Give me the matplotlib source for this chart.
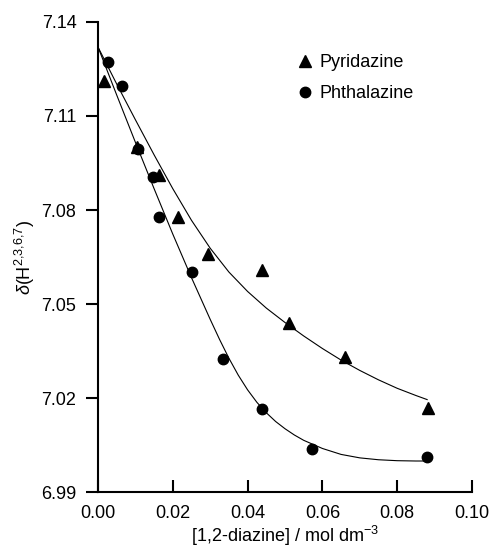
import numpy as np
import matplotlib
matplotlib.use('Agg')
import matplotlib.pyplot as plt

plt.rcParams['font.family'] = ['Liberation Sans', 'DejaVu Sans']
plt.rcParams['mathtext.fontset'] = 'custom'
plt.rcParams['mathtext.rm'] = 'Liberation Sans'
plt.rcParams['mathtext.it'] = 'Liberation Sans:italic'

# measured points
pyr_x = [0.0016, 0.0104, 0.0163, 0.0214, 0.0294, 0.0438, 0.0512, 0.0661, 0.0881]
pyr_y = [7.1212, 7.1000, 7.0912, 7.0779, 7.0660, 7.0608, 7.0438, 7.0330, 7.0167]

pht_x = [0.0028, 0.0063, 0.0108, 0.0146, 0.0163, 0.0250, 0.0333, 0.0438, 0.0572, 0.0879]
pht_y = [7.1271, 7.1197, 7.0995, 7.0906, 7.0779, 7.0603, 7.0323, 7.0165, 7.0036, 7.0013]

# fitted curves
pyr_fit_x = [0.000, 0.005, 0.010, 0.015, 0.020, 0.025, 0.030, 0.035, 0.040, 0.045,
             0.050, 0.055, 0.060, 0.065, 0.070, 0.075, 0.080, 0.085, 0.088]
pyr_fit_y = [7.1320, 7.1202, 7.1088, 7.0976, 7.0868, 7.0767, 7.0678, 7.0602, 7.0540, 7.0487,
             7.0441, 7.0398, 7.0358, 7.0321, 7.0288, 7.0258, 7.0231, 7.0208, 7.0195]

pht_fit_x = [0.000, 0.005, 0.010, 0.015, 0.020, 0.025, 0.030, 0.0325, 0.035, 0.0375,
             0.040, 0.0425, 0.045, 0.0475, 0.050, 0.0525, 0.055, 0.060, 0.065, 0.070,
             0.075, 0.080, 0.085, 0.088]
pht_fit_y = [7.1320, 7.1167, 7.1016, 7.0868, 7.0723, 7.0584, 7.0451, 7.0387, 7.0327, 7.0273,
             7.0226, 7.0186, 7.0153, 7.0125, 7.0102, 7.0082, 7.0065, 7.0039, 7.0020, 7.0009,
             7.0003, 7.0000, 6.9999, 6.9999]

x_ticks = [0.00, 0.02, 0.04, 0.06, 0.08, 0.10]
y_ticks = [6.99, 7.02, 7.05, 7.08, 7.11, 7.14]

fig = plt.figure(figsize=(4.9, 5.47), dpi=100)
ax = fig.add_axes([0.2, 0.1005, 0.7633, 0.8593])

ax.plot(pyr_fit_x, pyr_fit_y, color='black', lw=0.8)
ax.plot(pht_fit_x, pht_fit_y, color='black', lw=0.8)
ax.plot(pyr_x, pyr_y, '^', color='black', ms=8, label='Pyridazine', clip_on=False)
ax.plot(pht_x, pht_y, 'o', color='black', ms=7.5, label='Phthalazine', clip_on=False)

ax.set_xlim(0, 0.10)
ax.set_ylim(6.99, 7.14)
ax.set_xticks(x_ticks)
ax.set_xticklabels(['%.2f' % v for v in x_ticks])
ax.set_yticks(y_ticks)
ax.set_yticklabels(['%.2f' % v for v in y_ticks])

for s in ['top', 'right']:
    ax.spines[s].set_visible(False)
for s in ['left', 'bottom']:
    ax.spines[s].set_linewidth(1.5)

ax.tick_params(axis='y', direction='out', length=8.5, width=1.5, labelsize=13, pad=7)
ax.tick_params(axis='x', direction='in', length=8.5, width=1.5, labelsize=13, pad=9)

ax.set_xlabel('[1,2-diazine] / mol dm$^{\\mathregular{-3}}$', fontsize=13, labelpad=2)
ax.set_ylabel('$\\delta$(H$^{2{,}3{,}6{,}7}$)', fontsize=13, labelpad=3)

ax.legend(frameon=False, loc='upper left', bbox_to_anchor=(0.501, 0.951), fontsize=13,
          handletextpad=0.2, labelspacing=0.77, handlelength=1.2, borderpad=0)

fig.savefig('out.png', dpi=100)
